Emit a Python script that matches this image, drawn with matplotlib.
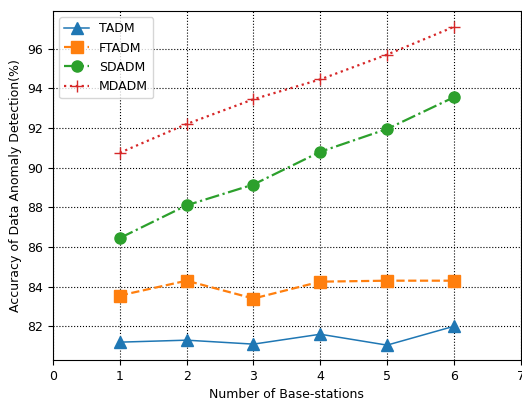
import matplotlib
matplotlib.use('Agg')
import matplotlib.pyplot as plt

base_stations = [1, 2, 3, 4, 5, 6]
tadm = [81.2, 81.3, 81.1, 81.6, 81.05, 82.0]
ftadm = [83.55, 84.3, 83.4, 84.25, 84.3, 84.3]
sdadm = [86.45, 88.1, 89.15, 90.8, 91.95, 93.55]
mdadm = [90.75, 92.2, 93.45, 94.45, 95.7, 97.1]

plt.rcParams['font.size'] = 9

fig = plt.figure(figsize=(5.22, 4.0), dpi=100)
ax = fig.add_axes([0.1015, 0.10, 0.896, 0.8725])

ax.plot(base_stations, tadm, '-^', color='tab:blue', markersize=8, linewidth=1.1, label='TADM')
ax.plot(base_stations, ftadm, '--s', color='tab:orange', markersize=8, linewidth=1.6, label='FTADM')
ax.plot(base_stations, sdadm, '-.o', color='tab:green', markersize=8, linewidth=1.6, label='SDADM')
ax.plot(base_stations, mdadm, ':+', color='tab:red', markersize=8, linewidth=1.6, label='MDADM')

ax.set_xlim(0, 7)
ax.set_ylim(80.3, 97.9)
ax.set_yticks([82, 84, 86, 88, 90, 92, 94, 96])
ax.grid(True, color='black', linestyle=':', linewidth=0.8)
ax.set_xlabel('Number of Base-stations')
ax.set_ylabel('Accuracy of Data Anomaly Detection(%)')
ax.legend(loc='upper left')

fig.savefig('out.png', dpi=100)
